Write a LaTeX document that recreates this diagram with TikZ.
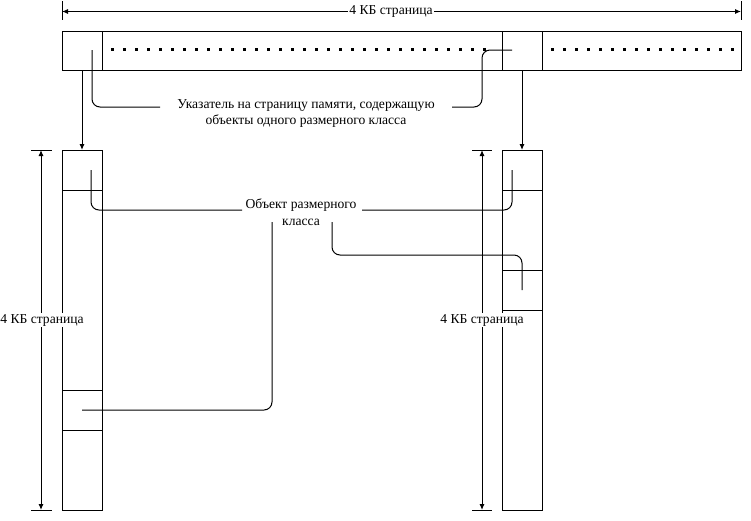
\documentclass[tikz,border=0pt]{standalone}
\usepackage{fontspec}
\setmainfont{Liberation Serif}
\usetikzlibrary{arrows.meta}
\begin{document}
\begin{tikzpicture}[x=1pt,y=-1pt,line width=1pt,
  cell/.style={draw, inner sep=0pt, outer sep=0pt, minimum height=39pt},
  vcell/.style={draw, inner sep=0pt, outer sep=0pt, minimum width=40pt},
  lbl/.style={font=\fontsize{13.6}{16.5}\selectfont, align=center, inner sep=1pt},
  dimlbl/.style={lbl, fill=white},
  arr/.style={-{Latex[length=6pt,width=5pt]}},
  conn/.style={rounded corners=8pt},
  tick/.style={line width=1pt}]
\useasboundingbox (0,0) rectangle (751,520);
% top bar
\node[cell, minimum width=40pt]  (c1) at (82,50.5) {};
\node[cell, minimum width=400pt] (c2) at (302,50.5) {};
\node[cell, minimum width=40pt]  (c3) at (522,50.5) {};
\node[cell, minimum width=199pt] (c4) at (641.5,50.5) {};
\foreach \i in {0,...,31} \fill (110.8+12*\i,47.8) rectangle ++(2.8,2.8);
\foreach \i in {0,...,15} \fill (550.8+12*\i,47.8) rectangle ++(2.8,2.8);
% left column
\node[vcell, minimum height=40pt]  (l1) at (82,170) {};
\node[vcell, minimum height=200pt] (l2) at (82,290) {};
\node[vcell, minimum height=40pt]  (l3) at (82,410) {};
\node[vcell, minimum height=80pt]  (l4) at (82,470) {};
% right column
\node[vcell, minimum height=40pt]  (r1) at (522,170) {};
\node[vcell, minimum height=80pt]  (r2) at (522,230) {};
\node[vcell, minimum height=40pt]  (r3) at (522,290) {};
\node[vcell, minimum height=200pt] (r4) at (522,410) {};
% arrows from bar to columns
\draw[arr] (c1.south) -- (l1.north);
\draw[arr] (c3.south) -- (r1.north);
% top dimension
\coordinate (tl) at (62,11.5);
\coordinate (tr) at (741,11.5);
\draw[tick] (62,1) -- (62,20);
\draw[tick] (741,1) -- (741,20);
\node[dimlbl] (tdim) at (391,11.5) {4 КБ страница};
\draw[arr] (tdim.west) -- (tl);
\draw[arr] (tdim.east) -- (tr);
% left dimension
\coordinate (lt) at (41,150);
\coordinate (lb) at (41,510);
\draw[tick] (31,150) -- (52,150);
\draw[tick] (31,510) -- (52,510);
\node[dimlbl] (ldim) at (42,320) {4 КБ страница};
\draw[arr] (ldim.north -| lt) -- (lt);
\draw[arr] (ldim.south -| lb) -- (lb);
% right dimension
\coordinate (rt) at (482,150);
\coordinate (rb) at (482,510);
\draw[tick] (472,150) -- (492,150);
\draw[tick] (472,510) -- (492,510);
\draw[arr] (482,320) -- (rt);
\draw[arr] (482,320) -- (rb);
\node[dimlbl] (rdim) at (482,320) {4 КБ страница};
% pointer label
\node[lbl] (ptr) at (306,113.5) {Указатель на страницу памяти, содержащую\\объекты одного размерного класса};
\coordinate (pa) at (92,50);
\coordinate (pal) at (160,107);
\coordinate (par) at (452,107);
\coordinate (pb) at (512,50);
\draw[conn] (pa) -- (92,107) -- (pal);
\draw[conn] (par) -- (482,107) -- (482,50) -- (pb);
% object label
\node[lbl] (obj) at (301,212) {Объект размерного\\класса};
\coordinate (o1) at (91,170);
\coordinate (o1e) at (242,210);
\coordinate (o2s) at (362,210);
\coordinate (o2) at (512,170);
\coordinate (o3s) at (332,222);
\coordinate (o3) at (522,290);
\coordinate (o4s) at (272,222);
\coordinate (o4) at (82,410);
\draw[conn] (o1) -- (91,210) -- (o1e);
\draw[conn] (o2s) -- (512,210) -- (o2);
\draw[conn] (o3s) -- (332,255) -- (522,255) -- (o3);
\draw[conn] (o4s) -- (272,410) -- (o4);
\end{tikzpicture}
\end{document}
